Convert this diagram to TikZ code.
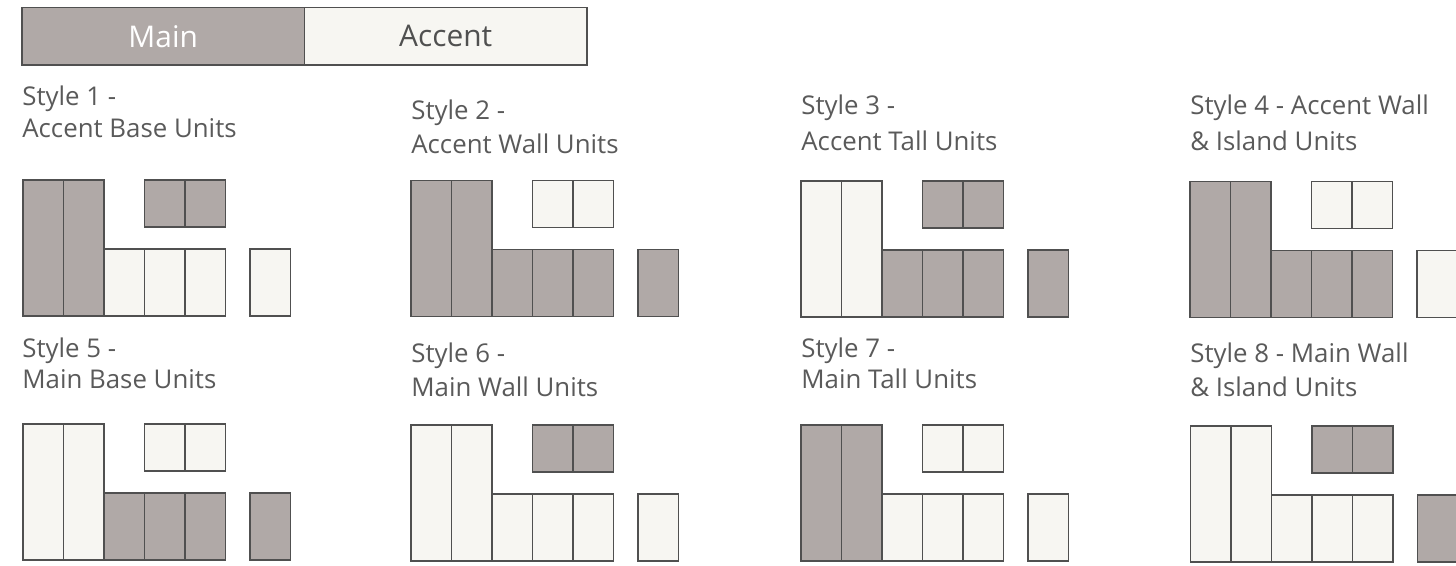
\documentclass[tikz,border=0pt]{standalone}
\usepackage{fontspec}
\setmainfont{Open Sans}
\usetikzlibrary{positioning}

\definecolor{mainfill}{HTML}{B0A9A7}
\definecolor{accentfill}{HTML}{F7F6F2}
\definecolor{unitline}{HTML}{505050}
\definecolor{labelgray}{HTML}{5A5A5A}

% one kitchen layout: #1 prefix, #2 x, #3 y, #4 tall, #5 wall, #6 base, #7 island
\newcommand{\kitlayout}[7]{%
    \node[#4, tallunit] (#1t1) at (#2,#3) {};
    \node[#4, tallunit, right=0pt of #1t1] (#1t2) {};
    \node[#6, baseunit, anchor=south west] (#1b1) at (#1t2.south east) {};
    \node[#6, baseunit, right=0pt of #1b1] (#1b2) {};
    \node[#6, baseunit, right=0pt of #1b2] (#1b3) {};
    \node[#5, wallunit, anchor=north west] (#1w1) at (#1b2.west |- #1t1.north) {};
    \node[#5, wallunit, right=0pt of #1w1] (#1w2) {};
    \node[#7, baseunit, right=0.49cm of #1b3] (#1i1) {};
}

\begin{document}
\begin{tikzpicture}[
        x=0.02cm, y=-0.02cm,
        unit/.style={
            draw=unitline, line width=0.8pt,
            inner sep=0pt, outer sep=0pt,
            minimum width=0.81cm, anchor=north west
        },
        mainunit/.style={unit, fill=mainfill},
        accentunit/.style={unit, fill=accentfill},
        tallunit/.style={minimum height=2.72cm},
        baseunit/.style={minimum height=1.34cm},
        wallunit/.style={minimum height=0.94cm},
        legbox/.style={
            draw=unitline, line width=0.8pt, inner sep=0pt, outer sep=0pt,
            minimum width=5.65cm, minimum height=1.15cm,
            font=\fontsize{17}{20}\selectfont
        },
        lbl/.style={
            font=\fontsize{14.7}{18}\selectfont, text=labelgray,
            anchor=base west, inner sep=0pt
        }
    ]

    \useasboundingbox (0,0) rectangle (1456,565);

    % Legend
    \node[legbox, fill=mainfill, text=white, anchor=north west] (legmain) at (22,7.5) {Main};
    \node[legbox, fill=accentfill, text=unitline, right=0pt of legmain] (legaccent) {Accent};

    % Style 1
    \node[lbl] (l1a) at (22,105) {Style 1 -};
    \node[lbl] (l1b) at (22,137) {Accent Base Units};
    \kitlayout{s1}{23}{180}{mainunit}{mainunit}{accentunit}{accentunit}

    % Style 2
    \node[lbl] (l2a) at (411,119) {Style 2 -};
    \node[lbl] (l2b) at (411,153) {Accent Wall Units};
    \kitlayout{s2}{411}{180.5}{mainunit}{accentunit}{mainunit}{mainunit}

    % Style 3
    \node[lbl] (l3a) at (801,114) {Style 3 -};
    \node[lbl] (l3b) at (801,150) {Accent Tall Units};
    \kitlayout{s3}{801}{181}{accentunit}{mainunit}{mainunit}{mainunit}

    % Style 4
    \node[lbl] (l4a) at (1190,114) {Style 4 - Accent Wall};
    \node[lbl] (l4b) at (1190,150) {\& Island Units};
    \kitlayout{s4}{1190}{181.5}{mainunit}{accentunit}{mainunit}{accentunit}

    % Style 5
    \node[lbl] (l5a) at (22,357) {Style 5 -};
    \node[lbl] (l5b) at (22,388) {Main Base Units};
    \kitlayout{s5}{23}{424}{accentunit}{accentunit}{mainunit}{mainunit}

    % Style 6
    \node[lbl] (l6a) at (411,362) {Style 6 -};
    \node[lbl] (l6b) at (411,396) {Main Wall Units};
    \kitlayout{s6}{411}{425}{accentunit}{mainunit}{accentunit}{accentunit}

    % Style 7
    \node[lbl] (l7a) at (801,357) {Style 7 -};
    \node[lbl] (l7b) at (801,388) {Main Tall Units};
    \kitlayout{s7}{801}{425}{mainunit}{accentunit}{accentunit}{accentunit}

    % Style 8
    \node[lbl] (l8a) at (1190,362) {Style 8 - Main Wall};
    \node[lbl] (l8b) at (1190,396.5) {\& Island Units};
    \kitlayout{s8}{1190.5}{426}{accentunit}{mainunit}{accentunit}{mainunit}

\end{tikzpicture}
\end{document}
